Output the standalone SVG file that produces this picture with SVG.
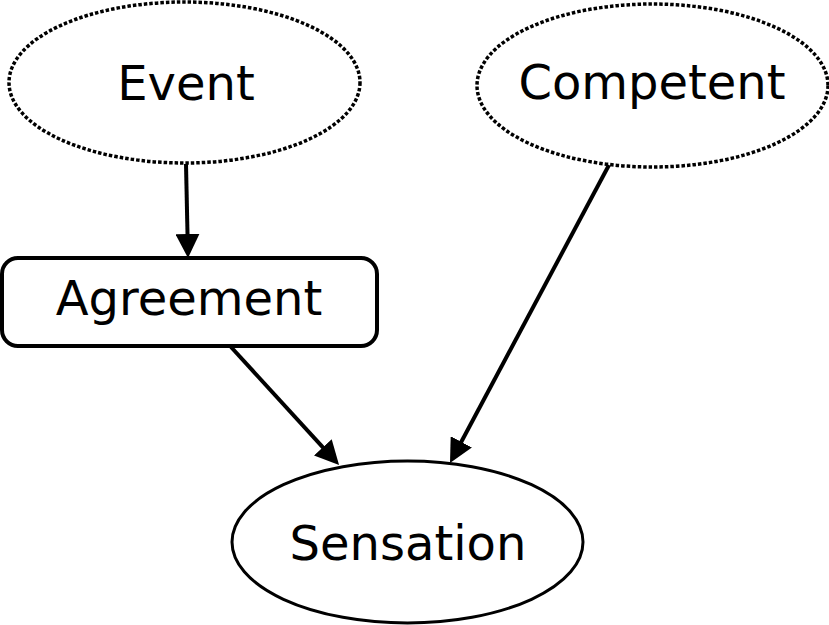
<svg xmlns="http://www.w3.org/2000/svg" width="829" height="625" viewBox="0 0 829 625">
<style>
.lbl{font-family:"DejaVu Sans","Verdana",sans-serif;font-size:48px;fill:#000;text-anchor:middle}
.dot{fill:#fff;stroke:#000;stroke-width:3.5;stroke-dasharray:3.5 2}
.solid{fill:#fff;stroke:#000;stroke-width:3}
.box{fill:#fff;stroke:#000;stroke-width:4}
.edge{fill:none;stroke:#000;stroke-width:4}
</style>
<defs>
<marker id="ah" viewBox="0 0 24 24" markerUnits="userSpaceOnUse" markerWidth="24" markerHeight="24" refX="14" refY="12" orient="auto">
<path d="M0,0 L24,12 L0,24 z" fill="#000"/>
</marker>
</defs>
<rect width="829" height="625" fill="#fff"/>
<g id="edges">
<line class="edge" x1="186" y1="164" x2="187.8" y2="248" marker-end="url(#ah)"/>
<line class="edge" x1="231" y1="347" x2="332.3" y2="457.6" marker-end="url(#ah)"/>
<line class="edge" x1="609" y1="165" x2="454.7" y2="454.2" marker-end="url(#ah)"/>
</g>
<g id="event">
<ellipse class="dot" cx="184.5" cy="82.5" rx="175.5" ry="80.5"/>
<text class="lbl" x="186" y="100">Event</text>
</g>
<g id="competent">
<ellipse class="dot" cx="652.5" cy="85.5" rx="175.5" ry="81.5"/>
<text class="lbl" x="652" y="99">Competent</text>
</g>
<g id="agreement">
<rect class="box" x="2" y="258" width="375" height="88" rx="16" ry="16"/>
<text class="lbl" x="189" y="315">Agreement</text>
</g>
<g id="sensation">
<ellipse class="solid" cx="407.5" cy="542" rx="175.5" ry="81"/>
<text class="lbl" x="408" y="560">Sensation</text>
</g>
</svg>
